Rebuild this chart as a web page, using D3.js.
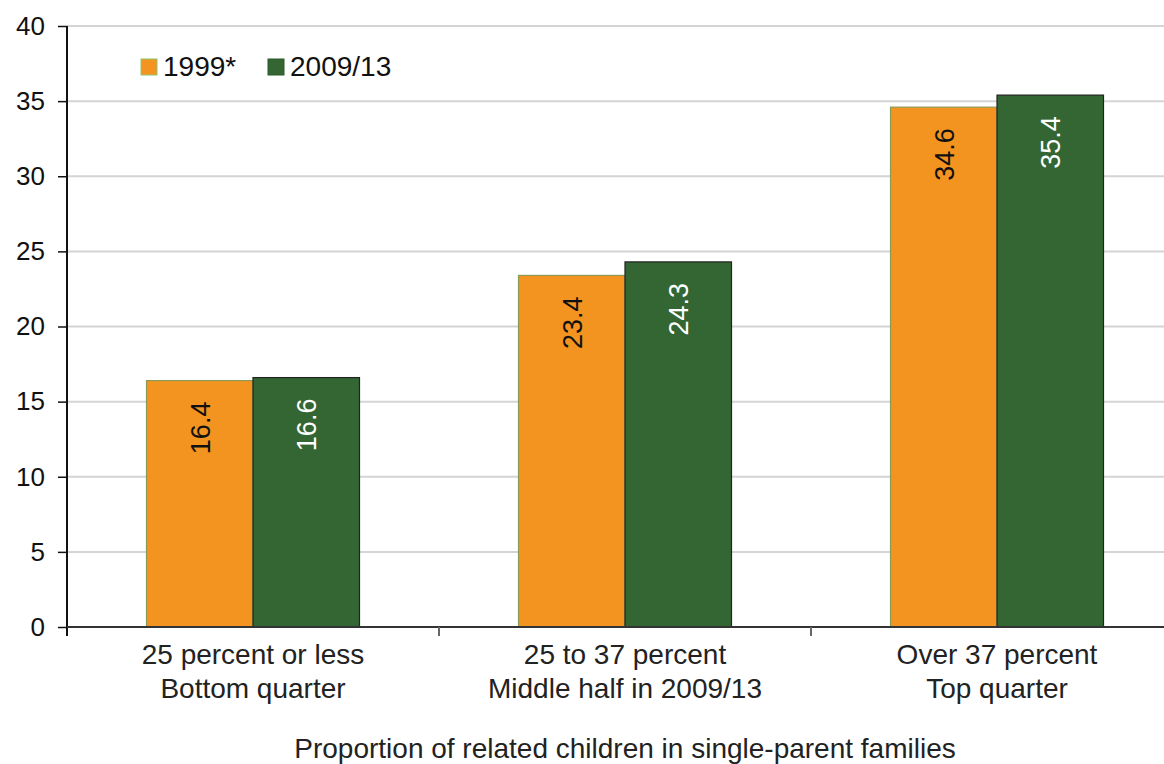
<!DOCTYPE html>
<html>
<head>
<meta charset="utf-8">
<script src="https://cdn.jsdelivr.net/npm/d3@7"></script>
<style>
  html, body { margin: 0; padding: 0; background: #fff; }
  svg { display: block; font-family: "Liberation Sans", Arial, Helvetica, sans-serif; }
</style>
</head>
<body>
<svg id="chart" width="1164" height="764"></svg>
<script>
// Category labels (two lines each)
const categories = ["25 percent or less", "25 to 37 percent", "Over 37 percent"];
const categorySub = ["Bottom quarter", "Middle half in 2009/13", "Top quarter"];
const seriesNames = ["1999*", "2009/13"];
const values1999 = [16.4, 23.4, 34.6];
const values2009 = [16.6, 24.3, 35.4];
const yTicks = [0, 5, 10, 15, 20, 25, 30, 35, 40];
const xTitle = "Proportion of related children in single-parent families";

const colors = ["#F39420", "#336633"];
const strokes = ["#8c9a58", "#222"];
const labelColors = ["#111", "#fff"];

const svg = d3.select("#chart");
const plotLeft = 67, plotRight = 1183, plotTop = 26, plotBottom = 627;

const x = d3.scaleBand().domain(categories).range([plotLeft, plotRight]).paddingInner(0).paddingOuter(0);
const x1 = d3.scaleBand().domain(seriesNames).range([0, x.bandwidth()]).paddingInner(0).paddingOuter(0.7465);
const y = d3.scaleLinear().domain([0, 40]).range([plotBottom, plotTop]);

// gridlines
svg.append("g").selectAll("line").data(yTicks.filter(d => d > 0)).join("line")
  .attr("x1", plotLeft).attr("x2", 1164)
  .attr("y1", d => y(d)).attr("y2", d => y(d))
  .attr("stroke", "#d4d4d4").attr("stroke-width", 2);

// bars
const groups = svg.append("g").selectAll("g").data(categories).join("g")
  .attr("transform", d => `translate(${x(d)},0)`);

const series = [values1999, values2009];
groups.each(function(cat, i) {
  const g = d3.select(this);
  seriesNames.forEach((s, j) => {
    const v = series[j][i];
    g.append("rect")
      .attr("x", x1(s)).attr("y", y(v))
      .attr("width", x1.bandwidth()).attr("height", y(0) - y(v))
      .attr("fill", colors[j]).attr("stroke", strokes[j]).attr("stroke-width", 1.2);
    const cx = x1(s) + x1.bandwidth() / 2;
    const ty = y(v) + 21;
    g.append("text")
      .attr("transform", `translate(${cx + 10},${ty}) rotate(-90)`)
      .attr("text-anchor", "end")
      .attr("font-size", 27)
      .attr("fill", labelColors[j])
      .text(v.toFixed(1));
  });
});

// y axis
const yAxis = d3.axisLeft(y).tickValues(yTicks).tickSize(9).tickPadding(13).tickFormat(d3.format("d"));
const ya = svg.append("g").attr("transform", `translate(${plotLeft},0)`).call(yAxis);
ya.select(".domain").attr("d", `M0,${plotTop}V${plotBottom + 9}`).attr("stroke", "#111").attr("stroke-width", 2);
ya.selectAll(".tick line").attr("stroke", "#111").attr("stroke-width", 1.5);
ya.selectAll(".tick text").attr("font-size", 26).attr("fill", "#111")
  .attr("font-family", "Liberation Sans, Arial, sans-serif");

// x axis baseline and category boundary ticks
svg.append("line").attr("x1", plotLeft).attr("x2", 1164).attr("y1", plotBottom).attr("y2", plotBottom)
  .attr("stroke", "#333").attr("stroke-width", 2);
const boundaries = categories.slice(1).map(c => x(c));
svg.append("g").selectAll("line").data(boundaries).join("line")
  .attr("x1", d => d).attr("x2", d => d).attr("y1", plotBottom).attr("y2", plotBottom + 9)
  .attr("stroke", "#666").attr("stroke-width", 2);

// category labels
const xl = svg.append("g").selectAll("text").data(categories).join("text")
  .attr("x", d => x(d) + x.bandwidth() / 2)
  .attr("text-anchor", "middle").attr("font-size", 28).attr("fill", "#222");
xl.append("tspan").attr("x", d => x(d) + x.bandwidth() / 2).attr("y", 664).text(d => d);
xl.append("tspan").attr("x", d => x(d) + x.bandwidth() / 2).attr("y", 698).text((d, i) => categorySub[i]);

// axis title
svg.append("text").attr("x", 625).attr("y", 758).attr("text-anchor", "middle")
  .attr("font-size", 28).attr("fill", "#222").text(xTitle);

// legend
const legendX = [141, 268];
seriesNames.forEach((s, j) => {
  svg.append("rect").attr("x", legendX[j]).attr("y", 59).attr("width", 16).attr("height", 16)
    .attr("fill", colors[j]).attr("stroke", j === 0 ? "#8fc46a" : "#2a5a2a").attr("stroke-width", 1);
  svg.append("text").attr("x", legendX[j] + 22).attr("y", 76).attr("font-size", 28)
    .attr("fill", "#111").text(s);
});
</script>
</body>
</html>
